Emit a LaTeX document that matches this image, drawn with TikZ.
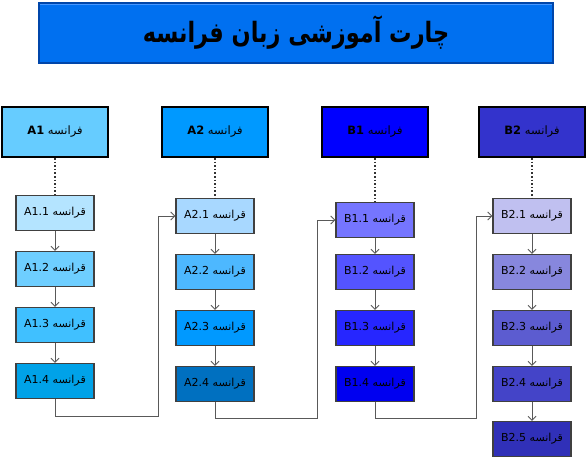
\documentclass[tikz,border=0pt]{standalone}
\usepackage{fontspec}
\setmainfont{DejaVu Sans}
\newfontfamily\arabicfont[Script=Arabic]{DejaVu Sans}
\newfontfamily\titlefont[Script=Arabic,FakeStretch=0.8]{DejaVu Sans}
\TeXXeTstate=1
\usetikzlibrary{arrows.meta}

% ---------- colours (picked from source) ----------
\definecolor{titleblue}{RGB}{0,112,240}
\definecolor{titleedge}{RGB}{0,70,170}
\definecolor{titlelight}{RGB}{70,150,255}
\definecolor{hdrAone}{RGB}{102,204,255}
\definecolor{hdrAtwo}{RGB}{0,153,255}
\definecolor{hdrBone}{RGB}{0,0,255}
\definecolor{hdrBtwo}{RGB}{51,51,204}
\definecolor{cAoneone}{RGB}{180,228,255}
\definecolor{cAonetwo}{RGB}{110,206,255}
\definecolor{cAonethree}{RGB}{64,192,255}
\definecolor{cAonefour}{RGB}{0,162,232}
\definecolor{cAtwoone}{RGB}{168,216,255}
\definecolor{cAtwotwo}{RGB}{77,184,255}
\definecolor{cAtwothree}{RGB}{0,153,255}
\definecolor{cAtwofour}{RGB}{0,112,192}
\definecolor{cBoneone}{RGB}{117,117,255}
\definecolor{cBonetwo}{RGB}{84,84,255}
\definecolor{cBonethree}{RGB}{38,38,255}
\definecolor{cBonefour}{RGB}{0,0,240}
\definecolor{cBtwoone}{RGB}{192,192,240}
\definecolor{cBtwotwo}{RGB}{135,135,221}
\definecolor{cBtwothree}{RGB}{92,92,208}
\definecolor{cBtwofour}{RGB}{68,68,200}
\definecolor{cBtwofive}{RGB}{48,48,184}

% ---------- box texts ----------
\newcommand{\levelbox}[1]{\arabicfont\beginR قرانسه \beginL #1\endL\endR}
\newcommand{\levelhead}[1]{\arabicfont\beginR فرانسه \beginL\textbf{#1}\endL\endR}

\begin{document}
\begin{tikzpicture}[x=1pt,y=-1pt,
  headbox/.style={draw=black, line width=2pt, minimum width=106pt, minimum height=50pt, inner sep=0pt, font=\fontsize{11.5}{13}\selectfont},
  levelnode/.style={draw=black!75, line width=1.1pt, minimum width=78pt, minimum height=35pt, inner sep=0pt, font=\fontsize{11}{12}\selectfont},
  flow/.style={draw=black!65, line width=1pt, -{Straight Barb[length=4pt,width=8pt]}},
  dotline/.style={draw=black!80, line width=1.6pt, dotted}]

% ---------- canvas (587 x 458 px, y down) ----------
\useasboundingbox (0,0) rectangle (587,458);

% ---------- title ----------
\node[fill=titleblue, draw=titleedge, line width=1.5pt, minimum width=514pt, minimum height=60pt, inner sep=0pt,
  font=\fontsize{28}{32}\selectfont\bfseries] (title) at (296,33) {\titlefont\beginR چارت آموزشی زبان فرانسه\endR};
\draw[titlelight, line width=1.5pt] ([shift={(2,2)}]title.north west) -- ([shift={(-2,2)}]title.north east);

% ---------- level headers ----------
\node[headbox, fill=hdrAone] (hA1) at (55,132) {\levelhead{A1}};
\node[headbox, fill=hdrAtwo] (hA2) at (215,132) {\levelhead{A2}};
\node[headbox, fill=hdrBone] (hB1) at (375,132) {\levelhead{B1}};
\node[headbox, fill=hdrBtwo] (hB2) at (532,132) {\levelhead{B2}};

% ---------- column A1 ----------
\node[levelnode, fill=cAoneone] (A11) at (55,213) {\levelbox{A1.1}};
\node[levelnode, fill=cAonetwo] (A12) at (55,269) {\levelbox{A1.2}};
\node[levelnode, fill=cAonethree] (A13) at (55,325) {\levelbox{A1.3}};
\node[levelnode, fill=cAonefour] (A14) at (55,381) {\levelbox{A1.4}};

% ---------- column A2 ----------
\node[levelnode, fill=cAtwoone] (A21) at (215,216) {\levelbox{A2.1}};
\node[levelnode, fill=cAtwotwo] (A22) at (215,272) {\levelbox{A2.2}};
\node[levelnode, fill=cAtwothree] (A23) at (215,328) {\levelbox{A2.3}};
\node[levelnode, fill=cAtwofour] (A24) at (215,384) {\levelbox{A2.4}};

% ---------- column B1 ----------
\node[levelnode, fill=cBoneone] (B11) at (375,220) {\levelbox{B1.1}};
\node[levelnode, fill=cBonetwo] (B12) at (375,272) {\levelbox{B1.2}};
\node[levelnode, fill=cBonethree] (B13) at (375,328) {\levelbox{B1.3}};
\node[levelnode, fill=cBonefour] (B14) at (375,384) {\levelbox{B1.4}};

% ---------- column B2 ----------
\node[levelnode, fill=cBtwoone] (B21) at (532,216) {\levelbox{B2.1}};
\node[levelnode, fill=cBtwotwo] (B22) at (532,272) {\levelbox{B2.2}};
\node[levelnode, fill=cBtwothree] (B23) at (532,328) {\levelbox{B2.3}};
\node[levelnode, fill=cBtwofour] (B24) at (532,384) {\levelbox{B2.4}};
\node[levelnode, fill=cBtwofive] (B25) at (532,439) {\levelbox{B2.5}};

% ---------- header to first box ----------
\draw[dotline] (hA1) -- (A11);
\draw[dotline] (hA2) -- (A21);
\draw[dotline] (hB1) -- (B11);
\draw[dotline] (hB2) -- (B21);

% ---------- arrows inside columns ----------
\draw[flow] (A11) -- (A12);
\draw[flow] (A12) -- (A13);
\draw[flow] (A13) -- (A14);
\draw[flow] (A21) -- (A22);
\draw[flow] (A22) -- (A23);
\draw[flow] (A23) -- (A24);
\draw[flow] (B11) -- (B12);
\draw[flow] (B12) -- (B13);
\draw[flow] (B13) -- (B14);
\draw[flow] (B21) -- (B22);
\draw[flow] (B22) -- (B23);
\draw[flow] (B23) -- (B24);
\draw[flow] (B24) -- (B25);

% ---------- links between columns ----------
\coordinate (jA) at (158,416);
\coordinate (jB) at (317,418);
\coordinate (jC) at (476,418);
\draw[flow] (A14.south) |- (jA) |- (A21.west);
\draw[flow] (A24.south) |- (jB) |- (B11.west);
\draw[flow] (B14.south) |- (jC) |- (B21.west);

\end{tikzpicture}
\end{document}
